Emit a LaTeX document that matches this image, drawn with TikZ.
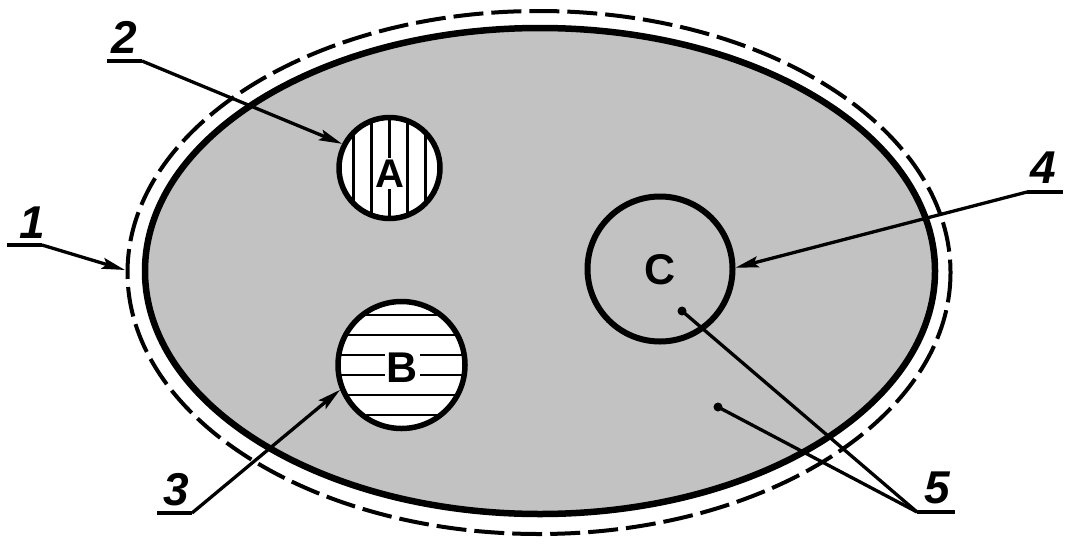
\documentclass[tikz,border=0pt]{standalone}
\usepackage{fontspec}
\setmainfont{Liberation Sans}
\usetikzlibrary{arrows.meta}
\begin{document}
\begin{tikzpicture}[x=1pt,y=-1pt,
  lead/.style={line width=3.3pt},
  arr/.style={lead,-{Stealth[length=23pt,width=11pt,inset=4pt]}},
  ring/.style={circle,draw,line width=5.5pt,inner sep=0pt},
  hatch/.style={line width=2.9pt},
  num/.style={font=\fontsize{46}{46}\selectfont\bfseries\itshape,inner sep=0pt,anchor=base},
  letter/.style={inner sep=1.5pt,anchor=base},
  dotend/.style={circle,fill,inner sep=0pt,minimum size=9pt}]
\useasboundingbox (0,0) rectangle (1070,544);
% body
\fill[black!24] (540,271) ellipse [x radius=395, y radius=243];
\draw[line width=6.5pt] (540,271) ellipse [x radius=395, y radius=243];
\draw[line width=4pt,dash pattern=on 30pt off 8pt] (539,272.5) ellipse [x radius=411.5, y radius=261.5];
% circle A
\fill[white] (389.5,168) circle [radius=51];
\begin{scope}
  \clip (389.5,168) circle [radius=51];
  \foreach \dx in {-36,-18,0,18,36} \draw[hatch] (389.5+\dx,100) -- ++(0,140);
\end{scope}
% circle B
\fill[white] (401.5,365) circle [radius=64];
\begin{scope}
  \clip (401.5,365) circle [radius=64];
  \foreach \dy in {-50,-30,-10,10,30,50} \draw[hatch] (320,365+\dy) -- ++(170,0);
\end{scope}
\node[ring,minimum size=101pt] (A) at (389.5,168) {};
\node[ring,minimum size=127pt] (B) at (401.5,365) {};
\node[ring,minimum size=145pt,line width=6pt] (C) at (660,269) {};
\node[letter,fill=white,font=\fontsize{40}{40}\selectfont\bfseries] (tA) at (389.5,187) {A};
\node[letter,fill=white,font=\fontsize{43}{43}\selectfont\bfseries] (tB) at (402.5,382) {B};
\node[letter,font=\fontsize{43}{43}\selectfont\bfseries] (tC) at (660,284.5) {C};
% label 1
\node[num] (n1) at (32,238) {1};
\coordinate (u1a) at (7,245); \coordinate (u1b) at (42,245);
\coordinate (t1) at (125,270);
\draw[lead] (u1a) -- (u1b);
\draw[arr] (u1b) -- (t1);
% label 2
\node[num] (n2) at (124.5,53) {2};
\coordinate (u2a) at (107,61); \coordinate (u2b) at (142,61);
\draw[lead] (u2a) -- (u2b);
\draw[arr] (u2b) -- (A.153);
% label 3
\node[num] (n3) at (176.5,505) {3};
\coordinate (u3a) at (157,513); \coordinate (u3b) at (192,513);
\draw[lead] (u3a) -- (u3b);
\draw[arr] (u3b) -- (B.202);
% label 4
\node[num] (n4) at (1043,183) {4};
\coordinate (u4a) at (1027,192); \coordinate (u4b) at (1063,192);
\draw[lead] (u4a) -- (u4b);
\draw[arr] (u4a) -- (C.1);
% label 5
\node[num] (n5) at (937,503) {5};
\coordinate (u5a) at (917,512); \coordinate (u5b) at (955,512);
\node[dotend] (d1) at (682,311) {};
\node[dotend] (d2) at (718,407) {};
\draw[lead] (u5a) -- (u5b);
\draw[lead] (u5a) -- (d1.center);
\draw[lead] (u5a) -- (d2.center);
\end{tikzpicture}
\end{document}
